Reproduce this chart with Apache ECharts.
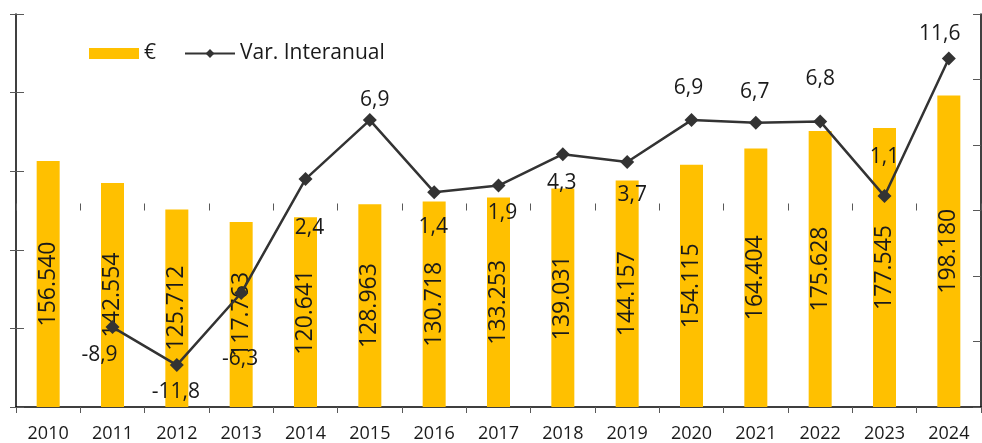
<!DOCTYPE html>
<html>
<head>
<meta charset="utf-8">
<script src="https://cdn.jsdelivr.net/npm/echarts@6/dist/echarts.min.js"></script>
<style>
    html, body { margin: 0; padding: 0; background: #fff; }
    #chart { width: 982px; height: 443px; }
</style>
</head>
<body>
<div id="chart"></div>
<script>
    // datos
    const years = ['2010','2011','2012','2013','2014','2015','2016','2017','2018','2019','2020','2021','2022','2023','2024'];
    const euros = [156540, 142554, 125712, 117763, 120641, 128963, 130718, 133253, 139031, 144157, 154115, 164404, 175628, 177545, 198180];
    const varInteranual = [null, -8.9, -11.8, -6.3, 2.4, 6.9, 1.4, 1.9, 4.3, 3.7, 6.9, 6.7, 6.8, 1.1, 11.6];
    // desplazamiento de etiquetas de la linea (como en el excel)
    const labelOffsets = [[0,0],[-13,28],[-1,27],[-1,66],[4,49],[5,-20],[-1,35],[4,27],[-1,29],[5,33],[-3,-32],[-1,-31],[0,-42],[0,-39],[-9,-25]];

    const font = 'Open Sans';
    const txt = '#1a1a1a';
    const tickColor = '#595959';

    function miles(v) {
        return String(v).replace(/\B(?=(\d{3})+(?!\d))/g, '.');
    }
    function coma(v) {
        return v.toFixed(1).replace('.', ',');
    }

    const chart = echarts.init(document.getElementById('chart'));
    chart.setOption({
        animation: false,
        grid: { left: 16, right: 1, top: 14, bottom: 36, containLabel: false },
        legend: {
            left: 84,
            top: 38,
            itemWidth: 50,
            itemHeight: 11,
            itemGap: 28,
            textStyle: { color: txt, fontSize: 21, fontFamily: font },
            data: [{ name: '€', icon: 'rect' }, { name: 'Var. Interanual' }]
        },
        xAxis: [
            {
                type: 'category',
                data: years,
                axisLine: { lineStyle: { color: '#000', width: 1.5 } },
                axisTick: { show: true, length: 6, lineStyle: { color: tickColor } },
                axisLabel: { color: txt, fontSize: 18, fontFamily: font, margin: 18 }
            },
            {
                type: 'category',
                data: years,
                position: 'bottom',
                axisLine: { show: false },
                axisTick: { show: true, inside: true, length: 7, lineStyle: { color: tickColor } },
                axisLabel: { show: false }
            }
        ],
        yAxis: [
            {
                type: 'value',
                min: 0, max: 250000, interval: 50000,
                position: 'left',
                axisLine: { show: true, lineStyle: { color: '#000', width: 1.5 } },
                axisTick: { show: true, length: 6, lineStyle: { color: tickColor } },
                axisLabel: { show: false },
                splitLine: { show: false }
            },
            {
                type: 'value',
                min: -15, max: 15, interval: 5,
                position: 'right',
                axisLine: { show: true, lineStyle: { color: '#000', width: 1.5 } },
                axisTick: { show: true, inside: true, length: 8, lineStyle: { color: tickColor } },
                axisLabel: { show: false },
                splitLine: { show: false }
            },
            {
                type: 'value',
                min: 0, max: 250000, interval: 50000,
                position: 'left',
                axisLine: { show: false },
                axisTick: { show: true, inside: true, length: 8, lineStyle: { color: tickColor } },
                axisLabel: { show: false },
                splitLine: { show: false }
            }
        ],
        series: [
            {
                name: '€',
                type: 'bar',
                yAxisIndex: 0,
                barWidth: 23,
                itemStyle: { color: '#FFC000' },
                label: {
                    show: true,
                    position: 'inside',
                    rotate: 90,
                    color: txt,
                    fontSize: 23,
                    fontFamily: font,
                    formatter: p => miles(p.value)
                },
                data: euros
            },
            {
                name: 'Var. Interanual',
                type: 'line',
                yAxisIndex: 1,
                symbol: 'diamond',
                symbolSize: 14,
                lineStyle: { color: '#333', width: 2.5 },
                itemStyle: { color: '#333' },
                z: 5,
                data: varInteranual.map((v, i) => ({
                    value: v,
                    label: {
                        show: v !== null,
                        position: 'inside',
                        offset: labelOffsets[i],
                        color: txt,
                        fontSize: 21,
                        fontFamily: font,
                        formatter: p => coma(p.value)
                    }
                }))
            }
        ]
    });
</script>
</body>
</html>
